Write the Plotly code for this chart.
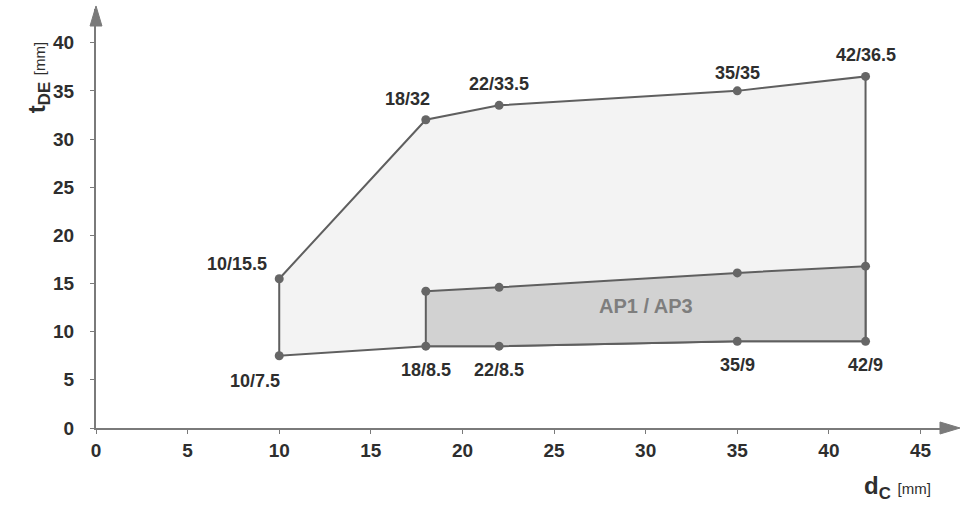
import plotly.graph_objects as go

# Outer operating envelope (d_C / t_DE in mm)
outer_top_x = [10, 18, 22, 35, 42]
outer_top_y = [15.5, 32, 33.5, 35, 36.5]
outer_bot_x = [10, 18, 22, 35, 42]
outer_bot_y = [7.5, 8.5, 8.5, 9, 9]

# AP1 / AP3 band upper edge (unlabelled points)
inner_top_x = [18, 22, 35, 42]
inner_top_y = [14.2, 14.6, 16.1, 16.8]

x_ticks = [0, 5, 10, 15, 20, 25, 30, 35, 40, 45]
y_ticks = [0, 5, 10, 15, 20, 25, 30, 35, 40]

LINE = "#5f5f5f"
AXIS = "#7a7a7a"
TXT = "#2e2e2e"
FONT = "Liberation Sans"

fig = go.Figure()

# outer envelope polygon
ox = outer_top_x + outer_bot_x[::-1] + [outer_top_x[0]]
oy = outer_top_y + outer_bot_y[::-1] + [outer_top_y[0]]
fig.add_trace(go.Scatter(x=ox, y=oy, mode="lines", fill="toself",
                         fillcolor="#f3f3f3", line=dict(color=LINE, width=2),
                         hoverinfo="skip", showlegend=False))

# AP1/AP3 band
bx = outer_bot_x[1:]
by = outer_bot_y[1:]
ix = inner_top_x + bx[::-1] + [inner_top_x[0]]
iy = inner_top_y + by[::-1] + [inner_top_y[0]]
fig.add_trace(go.Scatter(x=ix, y=iy, mode="lines", fill="toself",
                         fillcolor="#d2d2d2", line=dict(color=LINE, width=2),
                         hoverinfo="skip", showlegend=False))

# vertices
px = outer_top_x + outer_bot_x + inner_top_x
py = outer_top_y + outer_bot_y + inner_top_y
fig.add_trace(go.Scatter(x=px, y=py, mode="markers",
                         marker=dict(color="#666666", size=9),
                         showlegend=False))

def fmt(v):
    return f"{v:g}"

# point labels (pixel offsets from each vertex)
top_shift = [(-42, 15), (-18, 21), (0, 21), (0, 18), (0, 21)]
for (x, y), (dx, dy) in zip(zip(outer_top_x, outer_top_y), top_shift):
    fig.add_annotation(x=x, y=y, text=f"<b>{fmt(x)}/{fmt(y)}</b>", showarrow=False,
                       xshift=dx, yshift=dy, font=dict(family=FONT, size=18, color=TXT))
bot_shift = [(-24, -25), (0, -24), (0, -24), (0, -24), (0, -24)]
for (x, y), (dx, dy) in zip(zip(outer_bot_x, outer_bot_y), bot_shift):
    fig.add_annotation(x=x, y=y, text=f"<b>{fmt(x)}/{fmt(y)}</b>", showarrow=False,
                       xshift=dx, yshift=dy, font=dict(family=FONT, size=18, color=TXT))

fig.add_annotation(x=30, y=12.7, text="<b>AP1 / AP3</b>", showarrow=False,
                   font=dict(family=FONT, size=20, color="#7e7e7e"))

# arrowheads at the ends of both axes (paper coordinates)
fig.add_shape(type="path", xref="paper", yref="paper",
              path="M 0.9906,-0.0143 L 1.0141,0 L 0.9906,0.0143 Z",
              fillcolor=AXIS, line=dict(color=AXIS, width=1))
fig.add_shape(type="path", xref="paper", yref="paper",
              path="M -0.007,0.9594 L 0,1.0072 L 0.007,0.9594 Z",
              fillcolor=AXIS, line=dict(color=AXIS, width=1))

# axis titles
fig.add_annotation(xref="paper", yref="paper", x=-0.068, y=0.835, xanchor="center",
                   yanchor="middle", textangle=-90,
                   text="<b>t<sub>DE</sub></b> <span style='font-size:15px'>[mm]</span>",
                   showarrow=False, font=dict(family=FONT, size=24, color=TXT))
fig.add_annotation(xref="paper", yref="paper", x=0.982, y=-0.143, xanchor="right",
                   yanchor="middle",
                   text="<b>d<sub>C</sub></b> <span style='font-size:15px'>[mm]</span>",
                   showarrow=False, font=dict(family=FONT, size=24, color=TXT))

axis_common = dict(showgrid=False, zeroline=False, showline=True, linecolor=AXIS,
                   linewidth=2, ticks="outside", ticklen=4, tickcolor=AXIS,
                   tickfont=dict(family=FONT, size=19, color=TXT, weight="bold"))

fig.update_xaxes(range=[0, 46.5], tickvals=x_ticks,
                 ticktext=[f"<b>{v}</b>" for v in x_ticks], **axis_common)
fig.update_yaxes(range=[0, 43.5], tickvals=y_ticks,
                 ticktext=[f"<b>{v}</b>" for v in y_ticks], ticklabelstandoff=12,
                 **axis_common)

fig.update_layout(width=961, height=505, margin=dict(l=96, r=13, t=9, b=77),
                  plot_bgcolor="white", paper_bgcolor="white")

fig.write_html("out.html")
